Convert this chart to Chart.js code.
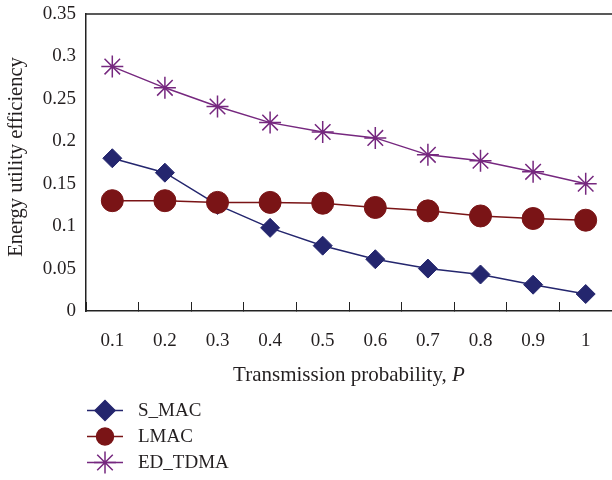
<!DOCTYPE html>
<html>
<head>
<meta charset="utf-8">
<script src="https://cdn.jsdelivr.net/npm/chart.js@4.4.1/dist/chart.umd.min.js"></script>
<style>
  html, body { margin: 0; padding: 0; background: #fff; }
  #wrap { width: 612px; height: 480px; }
</style>
</head>
<body>
<div id="wrap"><canvas id="myChart" width="612" height="480"></canvas></div>
<script>
// x categories (transmission probability)
let categories = ['0.1', '0.2', '0.3', '0.4', '0.5', '0.6', '0.7', '0.8', '0.9', '1'];
// y tick values
let yTicks = [0, 0.05, 0.1, 0.15, 0.2, 0.25, 0.3, 0.35];

let sMac = [0.18, 0.163, 0.125, 0.098, 0.077, 0.061, 0.05, 0.043, 0.031, 0.02];
let lMac = [0.13, 0.13, 0.128, 0.128, 0.127, 0.122, 0.118, 0.112, 0.109, 0.107];
let edTdma = [0.288, 0.263, 0.241, 0.222, 0.211, 0.204, 0.184, 0.177, 0.164, 0.15];

const textColor = '#231f20';
const serif = "'Liberation Serif', 'Times New Roman', serif";

// axis titles, top frame line and the legend under the plot
const extras = {
  id: 'extras',
  afterDraw(chart) {
    const ctx = chart.ctx;
    const area = chart.chartArea;
    ctx.save();

    // top frame line
    ctx.strokeStyle = '#222';
    ctx.lineWidth = 1.5;
    ctx.beginPath();
    ctx.moveTo(area.left, area.top);
    ctx.lineTo(area.right, area.top);
    ctx.stroke();

    ctx.fillStyle = textColor;
    ctx.textBaseline = 'middle';

    // x title, with italic P
    const t1 = 'Transmission probability, ';
    const t2 = 'P';
    ctx.font = '21px ' + serif;
    const w1 = ctx.measureText(t1).width;
    ctx.font = 'italic 21px ' + serif;
    const w2 = ctx.measureText(t2).width;
    let x0 = (area.left + area.right) / 2 - (w1 + w2) / 2;
    ctx.textAlign = 'left';
    ctx.font = '21px ' + serif;
    ctx.fillText(t1, x0, 375);
    ctx.font = 'italic 21px ' + serif;
    ctx.fillText(t2, x0 + w1, 375);

    // y title
    ctx.save();
    ctx.translate(17, 157);
    ctx.rotate(-Math.PI / 2);
    ctx.textAlign = 'center';
    ctx.font = '20.5px ' + serif;
    ctx.fillText('Energy utility efficiency', 0, 0);
    ctx.restore();

    // legend
    const rows = [410.5, 436.5, 462.5];
    chart.data.datasets.forEach((ds, i) => {
      const y = rows[i];
      ctx.strokeStyle = ds.borderColor;
      ctx.lineWidth = 1.5;
      ctx.beginPath();
      ctx.moveTo(87, y);
      ctx.lineTo(123, y);
      ctx.stroke();
      ctx.fillStyle = ds.pointBackgroundColor;
      Chart.helpers.drawPoint(ctx, {
        pointStyle: ds.pointStyle,
        radius: ds.legendRadius,
        borderWidth: ds.pointBorderWidth
      }, 105, y);
      ctx.fillStyle = textColor;
      ctx.textAlign = 'left';
      ctx.font = '19px ' + serif;
      ctx.fillText(ds.label, 138, y + 1);
    });
    ctx.restore();
  }
};

function makeChart() {
  const ctx = document.getElementById('myChart');
  return new Chart(ctx, {
    type: 'line',
    data: {
      labels: categories,
      datasets: [{
        label: 'S_MAC',
        data: sMac,
        borderColor: '#24266e',
        backgroundColor: '#24266e',
        pointBackgroundColor: '#24266e',
        pointBorderColor: '#24266e',
        pointStyle: 'rectRot',
        pointRadius: 9.5,
        pointBorderWidth: 1,
        legendRadius: 10,
        borderWidth: 1.5,
        order: 3
      }, {
        label: 'LMAC',
        data: lMac,
        borderColor: '#7a1416',
        backgroundColor: '#7a1416',
        pointBackgroundColor: '#7a1416',
        pointBorderColor: '#7a1416',
        pointStyle: 'circle',
        pointRadius: 11,
        pointBorderWidth: 1,
        legendRadius: 8.5,
        borderWidth: 1.5,
        order: 2
      }, {
        label: 'ED_TDMA',
        data: edTdma,
        borderColor: '#76287f',
        backgroundColor: '#76287f',
        pointBackgroundColor: '#76287f',
        pointBorderColor: '#76287f',
        pointStyle: 'star',
        pointRadius: 11,
        pointBorderWidth: 1.5,
        legendRadius: 11,
        borderWidth: 1.5,
        order: 1
      }]
    },
    options: {
      responsive: false,
      animation: false,
      layout: { autoPadding: false, padding: { top: 14, left: 0, right: 0, bottom: 0 } },
      plugins: {
        legend: { display: false },
        tooltip: { enabled: false }
      },
      scales: {
        x: {
          offset: true,
          afterFit: (scale) => {
            scale.height = 169;
            scale.paddingLeft = 0;
            scale.paddingRight = 0;
          },
          grid: {
            offset: true,
            drawOnChartArea: false,
            drawTicks: true,
            tickLength: -9,
            color: '#222',
            lineWidth: 1
          },
          border: { display: true, color: '#222', width: 1.5 },
          ticks: {
            color: textColor,
            font: { family: serif, size: 19 },
            padding: 28,
            maxRotation: 0
          }
        },
        y: {
          min: 0,
          max: 0.35,
          afterFit: (scale) => {
            scale.width = 86;
            scale.paddingTop = 0;
            scale.paddingBottom = 0;
          },
          afterBuildTicks: (scale) => {
            scale.ticks = yTicks.map(v => ({ value: v }));
          },
          grid: { drawOnChartArea: false, drawTicks: false },
          border: { display: true, color: '#222', width: 1.5 },
          ticks: {
            color: textColor,
            font: { family: serif, size: 19 },
            padding: 10,
            callback: (v) => String(v)
          }
        }
      }
    },
    plugins: [extras]
  });
}

makeChart();
</script>
</body>
</html>
